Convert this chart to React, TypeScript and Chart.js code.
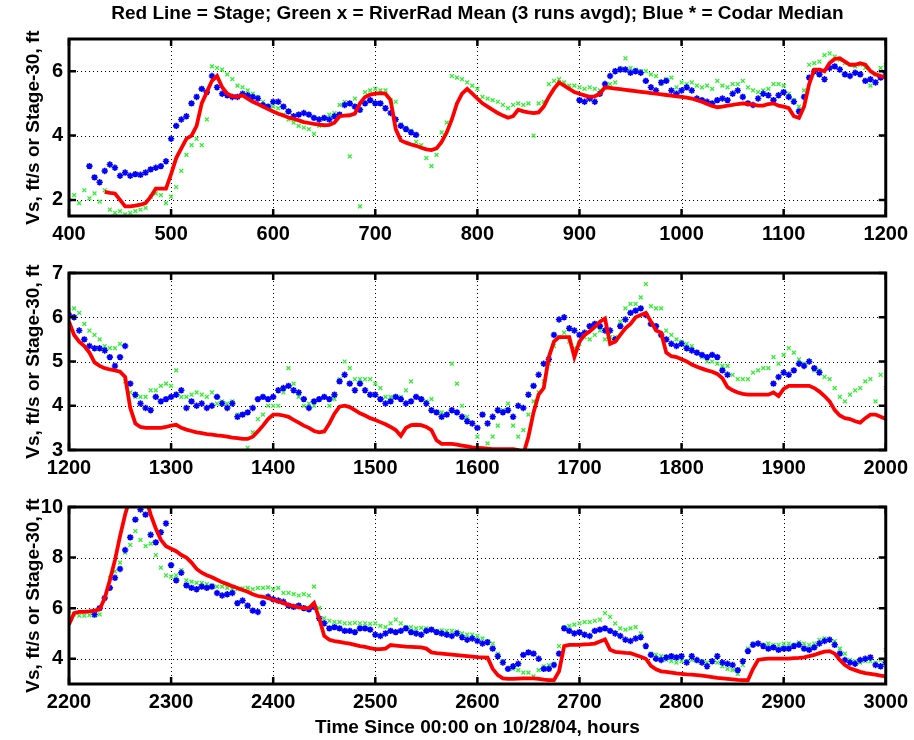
import React, { useEffect, useRef } from "react";
import { Chart, registerables } from "chart.js";

Chart.register(...registerables);
Chart.defaults.font.family = '"Liberation Sans", Arial, Helvetica, sans-serif';

const TITLE = "Red Line = Stage; Green x = RiverRad Mean (3 runs avgd); Blue * = Codar Median";
const Y_LABEL = "Vs, ft/s or Stage-30, ft";
const X_LABEL = "Time Since 00:00 on 10/28/04, hours";

const STEP_HOURS = 5;
const N = null;

const P1_START = 400;
const P1_X_TICKS = [400, 500, 600, 700, 800, 900, 1000, 1100, 1200];
const P1_Y_TICKS = [2, 4, 6];
const P2_START = 1200;
const P2_X_TICKS = [1200, 1300, 1400, 1500, 1600, 1700, 1800, 1900, 2000];
const P2_Y_TICKS = [3, 4, 5, 6, 7];
const P3_START = 2200;
const P3_X_TICKS = [2200, 2300, 2400, 2500, 2600, 2700, 2800, 2900, 3000];
const P3_Y_TICKS = [4, 6, 8, 10];

// ---- Panel 1 (400-1200 h), one row = 100 h at 5 h spacing ----
const P1_STAGE = [
  N, N, N, N, N, N, N, 2.25, 2.22, 2.2, 2.0, 1.8, 1.8, 1.82, 1.85, 1.9, 2.1, 2.35, 2.35, 2.35,
  2.8, 3.3, 3.6, 3.9, 4.0, 4.3, 5.0, 5.35, 5.7, 5.85, 5.5, 5.3, 5.22, 5.2, 5.25, 5.15, 5.05, 4.98, 4.9, 4.82,
  4.75, 4.68, 4.62, 4.56, 4.52, 4.47, 4.42, 4.39, 4.36, 4.34, 4.32, 4.33, 4.4, 4.6, 4.62, 4.63, 4.68, 5.0, 5.2, 5.27,
  5.3, 5.32, 5.3, 5.1, 4.2, 3.85, 3.78, 3.72, 3.68, 3.62, 3.57, 3.55, 3.6, 3.8, 4.1, 4.5, 5.0, 5.3, 5.45, 5.3,
  5.15, 5.0, 4.9, 4.8, 4.7, 4.62, 4.55, 4.6, 4.8, 4.75, 4.72, 4.7, 4.72, 4.9, 5.2, 5.45, 5.65, 5.55, 5.45, 5.35,
  5.3, 5.25, 5.2, 5.22, 5.3, 5.5, 5.48, 5.46, 5.44, 5.42, 5.4, 5.38, 5.36, 5.34, 5.32, 5.3, 5.28, 5.26, 5.24, 5.22,
  5.2, 5.18, 5.15, 5.1, 5.05, 4.98, 4.92, 4.88, 4.9, 4.93, 4.95, 4.98, 5.0, 4.98, 4.96, 4.93, 4.93, 4.98, 5.0, 4.93,
  4.9, 4.85, 4.6, 4.55, 4.9, 5.6, 6.05, 6.05, 6.0, 6.25, 6.38, 6.4, 6.3, 6.2, 6.2, 6.25, 6.2, 6.0, 5.9, 5.85,
  5.8,
];
const P1_RIVERRAD = [
  2.0, 2.15, 1.9, 2.3, 2.05, 2.2, 1.95, 2.3, 1.7, 1.6, 1.65, 1.55, 1.6, 1.65, 1.7, 1.75, 2.1, 2.2, 2.15, 1.9,
  2.1, 2.4, 2.9, 3.4, 3.7, 3.9, 3.7, 4.5, 6.15, 6.1, 6.05, 5.9, 5.75, 5.55, 5.5, 5.4, 5.3, 5.2, 5.05, 4.9,
  4.9, 4.85, 4.65, 4.5, 4.4, 4.3, 4.25, 4.2, 4.05, 4.3, 4.5, 4.65, 4.7, 4.95, 5.05, 3.35, 5.15, 1.8, 5.35, 5.4,
  5.45, 5.4, 5.4, 5.1, 5.05, 4.35, 4.25, 4.15, 3.8, 3.7, 3.3, 3.05, 3.4, 4.1, 4.4, 5.85, 5.8, 5.75, 5.65, 5.55,
  5.45, 5.2, 5.15, 5.1, 5.05, 4.95, 4.85, 4.95, 5.0, 4.95, 5.0, 4.0, 5.0, 5.05, 5.6, 5.7, 5.75, 5.65, 5.55, 5.55,
  5.5, 5.45, 5.5, 5.45, 5.4, 5.5, 5.6, 5.65, 6.1, 6.4, 6.1, 6.05, 6.0, 6.0, 5.9, 5.85, 5.6, 5.75, 5.8, 5.5,
  5.65, 5.6, 5.65, 5.55, 5.5, 5.55, 5.45, 5.7, 5.55, 5.5, 5.6, 5.6, 5.7, 5.5, 5.4, 5.35, 5.4, 5.45, 5.6, 5.6,
  5.55, 5.3, 5.1, 4.9, 5.4, 6.2, 6.25, 6.3, 6.5, 6.55, 6.45, 6.35, 6.25, 6.2, 6.15, 6.2, 6.1, 5.55, 5.9, 6.1,
  6.2,
];
const P1_CODAR = [
  N, N, N, N, 3.05, 2.7, 2.55, 2.9, 3.1, 3.0, 2.75, 2.85, 2.75, 2.8, 2.78, 2.85, 2.95, 3.0, 3.05, 3.2,
  3.9, 4.3, 4.5, 4.6, 5.0, 5.2, 5.45, 5.35, 5.85, 5.5, 5.3, 5.25, 5.2, 5.2, 5.3, 5.25, 5.2, 5.15, 4.95, 4.9,
  5.05, 5.05, 4.9, 4.75, 4.6, 4.65, 4.7, 4.65, 4.55, 4.5, 4.55, 4.5, 4.6, 4.65, 4.95, 5.0, 4.9, 4.8, 5.0, 5.1,
  5.0, 5.0, 4.85, 4.7, 4.5, 4.3, 4.2, 4.1, 4.02, N, N, N, N, N, N, N, N, N, N, N,
  N, N, N, N, N, N, N, N, N, N, N, N, N, N, N, N, N, N, N, N,
  5.1, 5.05, 5.15, 5.05, 5.3, 5.6, 5.85, 6.0, 6.05, 6.05, 5.95, 6.0, 5.95, 5.7, 5.5, 5.4, 5.65, 5.7, 5.4, 5.3,
  5.4, 5.5, 5.4, 5.15, 5.1, 5.05, 5.0, 5.1, 5.15, 5.1, 5.3, 5.4, 5.2, 5.0, 4.95, 5.15, 5.3, 5.25, 5.1, 5.25,
  5.35, 5.2, 5.05, 4.75, 5.2, 5.8, 6.0, 5.9, 5.75, 6.1, 6.15, 6.05, 5.9, 5.85, 5.95, 5.9, 5.7, 5.75, 5.65, 5.8,
  5.95,
];

// ---- Panel 2 (1200-2000 h) ----
const P2_STAGE = [
  5.9, 5.6, 5.45, 5.35, 5.2, 4.98, 4.9, 4.85, 4.82, 4.8, 4.77, 4.65, 3.95, 3.6, 3.52, 3.5, 3.5, 3.5, 3.5, 3.52,
  3.55, 3.57, 3.5, 3.46, 3.43, 3.4, 3.38, 3.36, 3.35, 3.33, 3.32, 3.3, 3.28, 3.27, 3.25, 3.25, 3.3, 3.42, 3.55, 3.7,
  3.8, 3.8, 3.78, 3.75, 3.68, 3.62, 3.55, 3.5, 3.43, 3.4, 3.42, 3.6, 3.82, 3.98, 4.0, 3.97, 3.9, 3.83, 3.78, 3.72,
  3.68, 3.63, 3.58, 3.52, 3.45, 3.32, 3.5, 3.56, 3.57, 3.56, 3.52, 3.45, 3.22, 3.14, 3.14, 3.14, 3.12, 3.1, 3.08, 3.06,
  3.05, 3.04, 3.03, 3.02, 3.02, 3.02, 3.02, 3.02, 3.0, 2.9, 3.3, 3.85, 4.25, 4.4, 5.1, 5.45, 5.55, 5.55, 5.55, 5.1,
  5.45, 5.6, 5.68, 5.78, 5.9, 5.97, 5.4, 5.45, 5.6, 5.75, 5.85, 6.0, 6.05, 6.1, 5.9, 5.7, 5.65, 5.2, 5.12, 5.1,
  5.05, 5.0, 4.93, 4.88, 4.84, 4.8, 4.77, 4.72, 4.62, 4.42, 4.35, 4.3, 4.27, 4.25, 4.25, 4.25, 4.25, 4.25, 4.3, 4.22,
  4.38, 4.45, 4.45, 4.45, 4.45, 4.45, 4.4, 4.32, 4.22, 4.1, 3.9, 3.78, 3.72, 3.7, 3.65, 3.62, 3.72, 3.8, 3.8, 3.75,
  3.7,
];
const P2_RIVERRAD = [
  6.15, 6.2, 6.1, 5.85, 5.7, 5.6, 5.5, 5.35, 5.3, 5.3, 5.4, 4.55, 4.3, 4.2, 4.2, 4.2, 4.35, 4.35, 4.45, 4.5,
  4.45, 4.8, 4.2, 4.2, 4.25, 4.3, 4.25, 4.2, 4.3, 4.05, 4.1, 4.05, 4.1, 3.8, 3.8, 3.05, 3.4, 3.7, 3.8, 4.0,
  4.0, 4.0, 4.3, 4.85, 4.5, 4.2, 4.0, 4.05, 4.0, 4.15, 4.2, 4.0, 4.15, 4.6, 5.0, 4.85, 4.6, 4.6, 4.6, 4.6,
  4.5, 4.4, 4.2, 4.2, 4.2, 4.2, 4.35, 4.55, 4.2, 4.15, 4.1, 4.15, 3.85, 3.85, 3.8, 4.95, 4.5, 4.0, 3.75, 3.6,
  3.3, 3.0, 3.15, 3.3, 3.55, 3.9, 4.05, 3.55, 3.3, 3.45, 3.8, 4.1, 4.3, 4.55, 4.95, 5.35, 5.55, 5.65, 5.45, 5.3,
  5.4, 5.55, 5.5, 5.6, 5.7, 5.5, 5.55, 5.55, 5.9, 6.2, 6.3, 6.3, 6.45, 6.75, 6.25, 6.2, 6.2, 5.7, 5.6, 5.5,
  5.45, 5.4, 5.35, 5.2, 5.1, 5.0, 5.0, 4.95, 4.9, 4.9, 4.7, 4.6, 4.6, 4.6, 4.75, 4.8, 4.85, 4.85, 5.1, 4.95,
  5.15, 5.3, 5.2, 5.05, 4.95, 5.0, 4.8, 4.8, 4.65, 4.6, 4.4, 4.2, 4.1, 4.25, 4.35, 4.4, 4.55, 4.6, 4.1, 4.7,
  4.4,
];
const P2_CODAR = [
  6.05, 6.0, 5.7, 5.5, 5.35, 5.3, 5.3, 5.25, 5.1, 4.9, 5.1, 5.35, 4.5, 4.25, 4.05, 3.95, 3.9, 4.2, 4.1, 4.15,
  4.2, 4.25, 4.35, 3.95, 4.1, 4.0, 4.05, 3.95, 4.0, 4.2, 4.05, 3.95, 4.05, 3.75, 3.8, 3.85, 3.95, 4.15, 4.2, 4.15,
  4.2, 4.35, 4.4, 4.45, 4.35, 4.3, 4.15, 3.95, 4.1, 4.15, 4.2, 4.15, 4.25, 4.55, 4.7, 4.5, 4.35, 4.5, 4.35, 4.25,
  4.25, 4.15, 4.05, 4.1, 4.2, 4.15, 4.05, 4.1, 4.2, 4.15, 4.05, 3.9, 3.85, 3.75, 3.8, 3.9, 3.85, 3.75, 3.65, 3.6,
  3.5, 3.8, 3.6, 3.75, 3.9, 3.85, 3.9, 3.75, 4.0, 3.95, 4.25, 4.45, 4.7, 4.95, 5.05, 5.6, 5.95, 6.0, 5.75, 5.7,
  5.6, 5.65, 5.8, 5.85, 5.8, 5.7, 5.7, 5.5, 5.8, 5.95, 6.1, 6.15, 6.2, 6.05, 5.85, 5.8, 5.6, 5.5, 5.4, 5.35,
  5.4, 5.3, 5.25, 5.2, 5.15, 5.1, 5.15, 5.1, 4.8, 4.7, N, N, N, N, N, N, N, N, 4.5, 4.65,
  4.75, 4.7, 4.8, 4.95, 4.9, 5.0, 4.85, 4.75, N, N, N, N, N, N, N, N, N, N, N, N,
  N,
];

// ---- Panel 3 (2200-3000 h) ----
const P3_STAGE = [
  5.35, 5.8, 5.85, 5.85, 5.87, 5.9, 5.95, 6.4, 7.1, 7.9, 8.85, 9.7, 10.4, 10.6, 10.6, 10.4, 9.7, 9.15, 8.7, 8.45,
  8.35, 8.25, 8.1, 8.0, 7.8, 7.55, 7.4, 7.3, 7.22, 7.12, 7.02, 6.95, 6.87, 6.8, 6.72, 6.65, 6.55, 6.48, 6.45, 6.4,
  6.32, 6.27, 6.2, 6.13, 6.08, 6.03, 6.0, 6.0, 6.2, 5.6, 4.9, 4.75, 4.7, 4.67, 4.63, 4.6, 4.55, 4.5, 4.47, 4.42,
  4.38, 4.38, 4.4, 4.54, 4.52, 4.5, 4.48, 4.47, 4.46, 4.45, 4.4, 4.25, 4.22, 4.2, 4.18, 4.16, 4.14, 4.12, 4.1, 4.08,
  4.06, 4.05, 4.04, 3.6, 3.35, 3.22, 3.2, 3.2, 3.21, 3.22, 3.22, 3.22, 3.2, 3.17, 3.15, 3.15, 3.5, 4.5, 4.55, 4.55,
  4.55, 4.57, 4.58, 4.6, 4.68, 4.76, 4.35, 4.27, 4.25, 4.23, 4.22, 4.15, 4.08, 4.0, 3.72, 3.58, 3.5, 3.48, 3.45, 3.42,
  3.4, 3.38, 3.37, 3.35, 3.33, 3.3, 3.27, 3.24, 3.22, 3.2, 3.18, 3.16, 3.15, 3.15, 3.6, 3.95, 3.98, 4.0, 4.0, 4.0,
  4.0, 4.0, 4.02, 4.03, 4.05, 4.1, 4.15, 4.22, 4.28, 4.3, 4.2, 3.95, 3.75, 3.62, 3.55, 3.48, 3.43, 3.4, 3.37, 3.33,
  3.3,
];
const P3_RIVERRAD = [
  5.9, 5.75, 5.7, 5.7, 5.72, 5.7, 5.75, 6.4, 7.2, 7.45, 7.8, 8.2, 8.5, 9.05, 8.7, 8.45, 8.55, 8.1, 7.6, 7.3,
  7.25, 7.3, 7.5, 7.1, 7.05, 7.0, 7.0, 6.95, 6.9, 6.85, 6.85, 6.8, 6.75, 6.75, 6.78, 6.8, 6.75, 6.8, 6.8, 6.82,
  6.75, 6.8, 6.6, 6.6, 6.55, 6.5, 6.55, 6.5, 6.85, 6.0, 5.6, 5.5, 5.45, 5.45, 5.4, 5.4, 5.42, 5.4, 5.4, 5.38,
  5.4, 5.3, 5.25, 5.4, 5.55, 5.4, 5.25, 5.25, 5.2, 5.22, 5.2, 5.15, 5.1, 5.12, 5.1, 5.1, 5.08, 5.0, 4.95, 4.95,
  4.9, 4.8, 4.7, 4.6, 4.2, 3.9, 3.6, 3.6, 3.55, 3.45, 3.45, 3.3, 3.55, 3.7, 3.75, 3.8, 4.5, 5.25, 5.3, 5.35,
  5.4, 5.45, 5.45, 5.5, 5.55, 5.8, 5.65, 5.4, 5.2, 5.15, 5.2, 5.25, 5.0, 4.5, 4.2, 4.15, 4.1, 3.95, 3.9, 3.85,
  3.9, 3.9, 3.95, 3.9, 3.9, 3.85, 3.9, 3.85, 3.7, 3.6, 3.55, 3.4, 3.75, 4.4, 4.6, 4.6, 4.55, 4.6, 4.55, 4.55,
  4.6, 4.6, 4.55, 4.65, 4.6, 4.55, 4.6, 4.75, 4.8, 4.75, 4.7, 4.4, 4.2, 3.95, 3.9, 3.85, 3.9, 3.9, 3.85, 3.95,
  4.35,
];
const P3_CODAR = [
  N, N, N, N, N, 5.75, 6.0, 6.4, 6.8, 7.2, 7.55, 8.3, 8.8, 9.5, 9.9, 9.7, 8.9, 8.6, 9.0, 9.35,
  7.7, 7.1, 7.4, 6.9, 6.8, 6.75, 6.85, 6.8, 6.85, 6.6, 6.5, 6.55, 6.6, 6.2, 6.3, 6.1, 5.9, 5.85, 6.2, 6.45,
  6.35, 6.3, 6.25, 6.1, 6.05, 6.1, 6.0, 5.95, 6.05, 5.6, 5.4, 5.2, 5.25, 5.2, 5.1, 5.1, 5.05, 5.2, 5.2, 5.15,
  4.95, 4.9, 5.0, 5.1, 5.05, 5.1, 5.2, 5.05, 5.0, 4.95, 5.1, 5.15, 5.05, 5.0, 4.95, 4.9, 5.0, 4.85, 4.75, 4.8,
  4.7, 4.6, 4.65, 4.4, 4.1, 3.85, 3.6, 3.7, 3.8, 4.15, 4.25, 4.2, 4.0, 3.6, 3.6, 3.75, 4.2, 5.2, 5.1, 5.0,
  5.05, 4.95, 4.9, 5.1, 5.15, 5.2, 5.1, 5.0, 4.9, 4.75, 4.7, 4.8, 4.85, 4.5, 4.15, 4.0, 3.95, 4.05, 4.1, 4.05,
  4.1, 3.85, 4.1, 3.95, 3.85, 3.7, 3.9, 4.1, 3.85, 3.8, 3.75, 3.55, 3.9, 4.3, 4.55, 4.6, 4.5, 4.4, 4.45, 4.35,
  4.4, 4.4, 4.5, 4.55, 4.4, 4.35, 4.45, 4.6, 4.7, 4.75, 4.55, 4.2, 3.95, 3.85, 3.8, 3.95, 4.0, 4.05, 3.75, 3.7,
  3.85,
];

const RED = "#ff0000";
const GREEN = "#33ee33";
const BLUE = "#0000ff";
const FONT = '"Liberation Sans", Arial, Helvetica, sans-serif';

type PanelCfg = {
  top: number;
  height: number;
  padTop: number;
  xAxisH: number;
  start: number;
  xTicks: number[];
  yMin: number;
  yMax: number;
  yTicks: number[];
  stage: (number | null)[];
  riverrad: (number | null)[];
  codar: (number | null)[];
  mainTitle: boolean;
  xTitle: boolean;
};

const PANELS: PanelCfg[] = [
  { top: 0, height: 250, padTop: 39, xAxisH: 34, start: P1_START, xTicks: P1_X_TICKS, yMin: 1.5, yMax: 7, yTicks: P1_Y_TICKS, stage: P1_STAGE, riverrad: P1_RIVERRAD, codar: P1_CODAR, mainTitle: true, xTitle: false },
  { top: 250, height: 234, padTop: 23, xAxisH: 34, start: P2_START, xTicks: P2_X_TICKS, yMin: 3, yMax: 7, yTicks: P2_Y_TICKS, stage: P2_STAGE, riverrad: P2_RIVERRAD, codar: P2_CODAR, mainTitle: false, xTitle: false },
  { top: 484, height: 256, padTop: 23, xAxisH: 56, start: P3_START, xTicks: P3_X_TICKS, yMin: 3, yMax: 10, yTicks: P3_Y_TICKS, stage: P3_STAGE, riverrad: P3_RIVERRAD, codar: P3_CODAR, mainTitle: false, xTitle: true },
];

const framePlugin = (cfg: PanelCfg) => ({
  id: "matlabFrame",
  beforeDatasetsDraw(chart: any) {
    const { ctx, chartArea: a, scales } = chart;
    ctx.save();
    ctx.strokeStyle = "#000";
    ctx.lineWidth = 1;
    ctx.setLineDash([1, 3]);
    for (const t of scales.x.ticks) {
      const px = Math.round(scales.x.getPixelForValue(t.value)) + 0.5;
      if (px <= a.left + 2 || px >= a.right - 2) continue;
      ctx.beginPath();
      ctx.moveTo(px, a.top);
      ctx.lineTo(px, a.bottom);
      ctx.stroke();
    }
    for (const t of scales.y.ticks) {
      const py = Math.round(scales.y.getPixelForValue(t.value)) + 0.5;
      if (py <= a.top + 2 || py >= a.bottom - 2) continue;
      ctx.beginPath();
      ctx.moveTo(a.left, py);
      ctx.lineTo(a.right, py);
      ctx.stroke();
    }
    ctx.restore();
  },
  afterDatasetsDraw(chart: any) {
    const { ctx, chartArea: a, scales } = chart;
    ctx.save();
    ctx.strokeStyle = "#000";
    ctx.setLineDash([]);
    ctx.lineWidth = 2.5;
    const tl = 7;
    ctx.beginPath();
    for (const t of scales.x.ticks) {
      const px = scales.x.getPixelForValue(t.value);
      ctx.moveTo(px, a.bottom);
      ctx.lineTo(px, a.bottom - tl);
      ctx.moveTo(px, a.top);
      ctx.lineTo(px, a.top + tl);
    }
    for (const t of scales.y.ticks) {
      const py = scales.y.getPixelForValue(t.value);
      ctx.moveTo(a.left, py);
      ctx.lineTo(a.left + tl, py);
      ctx.moveTo(a.right, py);
      ctx.lineTo(a.right - tl, py);
    }
    ctx.stroke();
    ctx.lineWidth = 3;
    ctx.strokeRect(a.left, a.top, a.right - a.left, a.bottom - a.top);
    if (cfg.mainTitle) {
      ctx.fillStyle = "#000";
      ctx.font = `bold 19px ${FONT}`;
      ctx.textAlign = "center";
      ctx.textBaseline = "middle";
      ctx.fillText(TITLE, (a.left + a.right) / 2, 14);
    }
    ctx.restore();
  },
});

function Panel({ cfg }: { cfg: PanelCfg }) {
  const ref = useRef<HTMLCanvasElement>(null);
  useEffect(() => {
    const toPts = (arr: (number | null)[]) =>
      arr.map((v, i) => ({ x: cfg.start + i * STEP_HOURS, y: v }));
    const xMin = cfg.xTicks[0];
    const xMax = cfg.xTicks[cfg.xTicks.length - 1];
    const chart = new Chart(ref.current as HTMLCanvasElement, {
      type: "scatter",
      data: {
        datasets: [
          {
            label: "Stage",
            data: toPts(cfg.stage) as any,
            showLine: true,
            borderColor: RED,
            backgroundColor: RED,
            borderWidth: 3.8,
            pointRadius: 0,
            spanGaps: false,
            order: 0,
          },
          {
            label: "Codar Median",
            data: toPts(cfg.codar) as any,
            showLine: false,
            pointStyle: "star",
            pointRadius: 3.2,
            pointBorderColor: BLUE,
            pointBackgroundColor: BLUE,
            pointBorderWidth: 1.6,
            order: 1,
          },
          {
            label: "RiverRad Mean",
            data: toPts(cfg.riverrad) as any,
            showLine: false,
            pointStyle: "crossRot",
            pointRadius: 2.7,
            pointBorderColor: GREEN,
            pointBackgroundColor: GREEN,
            pointBorderWidth: 1.3,
            order: 2,
          },
        ],
      },
      options: {
        animation: false,
        responsive: false,
        layout: { padding: { left: 0, right: 26, top: cfg.padTop, bottom: 0 } },
        plugins: { legend: { display: false }, tooltip: { enabled: false }, title: { display: false } },
        scales: {
          x: {
            type: "linear",
            position: "bottom",
            min: xMin,
            max: xMax,
            afterBuildTicks: (s: any) => {
              s.ticks = cfg.xTicks.map((v) => ({ value: v }));
            },
            afterFit: (s: any) => {
              s.height = cfg.xAxisH;
            },
            grid: { display: false, drawTicks: false },
            border: { display: false },
            ticks: {
              color: "#000",
              font: { size: 20, weight: "bold", family: FONT },
              padding: 6,
              maxRotation: 0,
              autoSkip: false,
              callback: (v: any) => String(v),
            },
            title: {
              display: cfg.xTitle,
              text: X_LABEL,
              color: "#000",
              font: { size: 19, weight: "bold", family: FONT },
              padding: { top: 0, bottom: 1 },
            },
          },
          y: {
            type: "linear",
            min: cfg.yMin,
            max: cfg.yMax,
            afterBuildTicks: (s: any) => {
              s.ticks = cfg.yTicks.map((v) => ({ value: v }));
            },
            afterFit: (s: any) => {
              s.width = 69;
            },
            grid: { display: false, drawTicks: false },
            border: { display: false },
            ticks: {
              color: "#000",
              font: { size: 20, weight: "bold", family: FONT },
              padding: 6,
              autoSkip: false,
              callback: (v: any) => String(v),
            },
            title: {
              display: true,
              text: Y_LABEL,
              color: "#000",
              font: { size: 19, weight: "bold", family: FONT },
              padding: { top: 22, bottom: 0 },
            },
          },
        },
      } as any,
      plugins: [framePlugin(cfg)],
    });
    return () => chart.destroy();
  }, [cfg]);
  return (
    <canvas
      ref={ref}
      width={914}
      height={cfg.height}
      style={{ position: "absolute", left: 0, top: cfg.top, width: 914, height: cfg.height }}
    />
  );
}

export default function App() {
  return (
    <div style={{ position: "absolute", left: 0, top: 0, width: 914, height: 740, background: "#fff" }}>
      {PANELS.map((p, i) => (
        <Panel key={i} cfg={p} />
      ))}
    </div>
  );
}
